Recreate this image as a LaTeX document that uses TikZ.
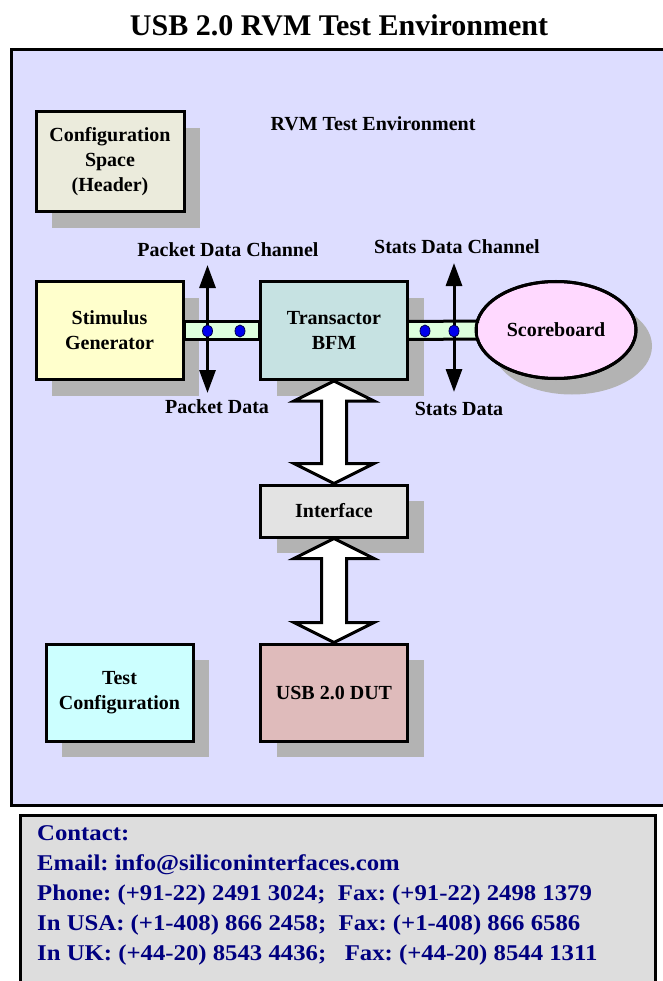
\documentclass[tikz,border=0pt]{standalone}
\usepackage{fontspec}
\setmainfont{Liberation Serif}
\newfontfamily\contactfamily[FakeStretch=1.1]{Liberation Serif}
\usetikzlibrary{calc,arrows.meta,shadows,shapes.geometric}
\definecolor{lav}{HTML}{DDDDFF}
\definecolor{shgray}{HTML}{B3B3B3}
\definecolor{cfgfill}{HTML}{EBEBDC}
\definecolor{stimfill}{HTML}{FFFFCC}
\definecolor{bfmfill}{HTML}{C6E2E2}
\definecolor{sbfill}{HTML}{FFD9FF}
\definecolor{intffill}{HTML}{E3E3E3}
\definecolor{dutfill}{HTML}{DFBBBB}
\definecolor{tcfill}{HTML}{CCFFFF}
\definecolor{chanfill}{HTML}{DDFFDD}
\definecolor{contactfill}{HTML}{DDDDDD}
\definecolor{navytext}{HTML}{000080}
\definecolor{dotblue}{HTML}{0000EE}
\newcommand\lblfont{\fontsize{20}{25}\selectfont\bfseries}
\newcommand\titlefont{\fontsize{30}{34}\selectfont\bfseries}
\newcommand\contactfont{\contactfamily\fontsize{22.5}{30}\selectfont\bfseries\frenchspacing}
\tikzset{
  blockbox/.style={draw, line width=3pt, align=center, font=\lblfont, inner sep=0pt,
    drop shadow={shadow xshift=16pt, shadow yshift=-16pt, fill=shgray, opacity=1, draw=none}},
  lbl/.style={font=\lblfont, inner sep=0pt},
  chan/.style={draw, line width=3pt, fill=chanfill},
  bluedot/.style={ellipse, draw=black!70!blue, line width=0.8pt, fill=dotblue, minimum width=10pt, minimum height=12pt, inner sep=0pt},
  vline/.style={line width=3pt, {Triangle[width=16pt,length=23pt]}-{Triangle[width=16pt,length=23pt]}},
  hollow/.style={draw, line width=3pt, fill=white, line join=miter},
  contactline/.style={anchor=base west, font=\contactfont, text=navytext, inner sep=0pt}
}
\begin{document}
\begin{tikzpicture}[x=1pt,y=-1pt]
\useasboundingbox (0,0) rectangle (662,981);
% title
\node[font=\titlefont, inner sep=0pt] (title) at (339,25) {USB 2.0 RVM Test Environment};
% main environment box
\draw[line width=3pt, fill=lav] (11,50) rectangle (666,805);
\node[lbl] (rvm) at (373,124) {RVM Test Environment};
% blocks
\node[blockbox, fill=cfgfill, minimum width=148pt, minimum height=100pt] (cfg) at (110,162) {Configuration\\Space\\(Header)};
\node[blockbox, fill=stimfill, minimum width=147pt, minimum height=98pt] (stim) at (109.5,330.5) {Stimulus\\Generator};
\node[blockbox, fill=bfmfill, minimum width=147pt, minimum height=98pt] (bfm) at (334,330.5) {Transactor\\BFM};
\node[blockbox, fill=intffill, minimum width=147pt, minimum height=52pt] (intf) at (334,511) {Interface};
\node[blockbox, fill=dutfill, minimum width=147pt, minimum height=97pt] (dut) at (334,692.5) {USB 2.0 DUT};
\node[blockbox, fill=tcfill, minimum width=147pt, minimum height=97pt] (tcfg) at (119.5,692.5) {Test\\Configuration};
% channels
\draw[chan] ($(stim.east)+(0,-9)$) rectangle ($(bfm.west)+(0,9)$);
\node[blockbox, ellipse, fill=sbfill, minimum width=160pt, minimum height=97pt] (sb) at (556,330) {Scoreboard};
\draw[chan] ($(bfm.east)+(0,-9)$) -- ($(sb.west)+(3,-9)$) -- ($(sb.west)+(3,9)$) -- ($(bfm.east)+(0,9)$);
\fill[sbfill] ($(sb.west)+(3,-7.5)$) rectangle ($(sb.west)+(6,7.5)$);
\draw[line width=3pt] (sb.center) ellipse [x radius=80pt, y radius=48.5pt];
% channel arrows
\coordinate (pt) at (207.5,265);
\coordinate (pb) at (207.5,393);
\coordinate (st) at (454,263);
\coordinate (sbt) at (454,392);
\draw[vline] (pt) -- (pb);
\draw[vline] (st) -- (sbt);
\node[bluedot] (d1) at (207.5,331) {};
\node[bluedot] (d2) at (240,331) {};
\node[bluedot] (d3) at (425,331) {};
\node[bluedot] (d4) at (454,331) {};
% channel labels
\node[lbl] (pdc) at (228,250) {Packet Data Channel};
\node[lbl] (pd) at (217,407) {Packet Data};
\node[lbl] (sdc) at (457,247) {Stats Data Channel};
\node[lbl] (sd) at (459,409) {Stats Data};
% hollow double arrows
\draw[hollow] (bfm.south) -- ++(40,20) -- ++(-27.5,0) -- ($(intf.north)+(12.5,-20)$) -- ++(27.5,0) -- (intf.north)
  -- ++(-40,-20) -- ++(27.5,0) -- ($(bfm.south)+(-12.5,20)$) -- ++(-27.5,0) -- cycle;
\draw[hollow] (intf.south) -- ++(40,20) -- ++(-27.5,0) -- ($(dut.north)+(12.5,-20)$) -- ++(27.5,0) -- (dut.north)
  -- ++(-40,-20) -- ++(27.5,0) -- ($(intf.south)+(-12.5,20)$) -- ++(-27.5,0) -- cycle;
% contact box
\draw[line width=3pt, fill=contactfill] (20,815) rectangle (655,995);
\node[contactline] (c1) at (37,840) {Contact:};
\node[contactline] (c2) at (37,870) {Email: info@siliconinterfaces.com};
\node[contactline] (c3) at (37,900) {Phone: (+91-22) 2491 3024;\ \ Fax: (+91-22) 2498 1379};
\node[contactline] (c4) at (37,930) {In USA: (+1-408) 866 2458;\ \ Fax: (+1-408) 866 6586};
\node[contactline] (c5) at (37,960) {In UK: (+44-20) 8543 4436;\ \ \ Fax: (+44-20) 8544 1311};
\end{tikzpicture}
\end{document}
